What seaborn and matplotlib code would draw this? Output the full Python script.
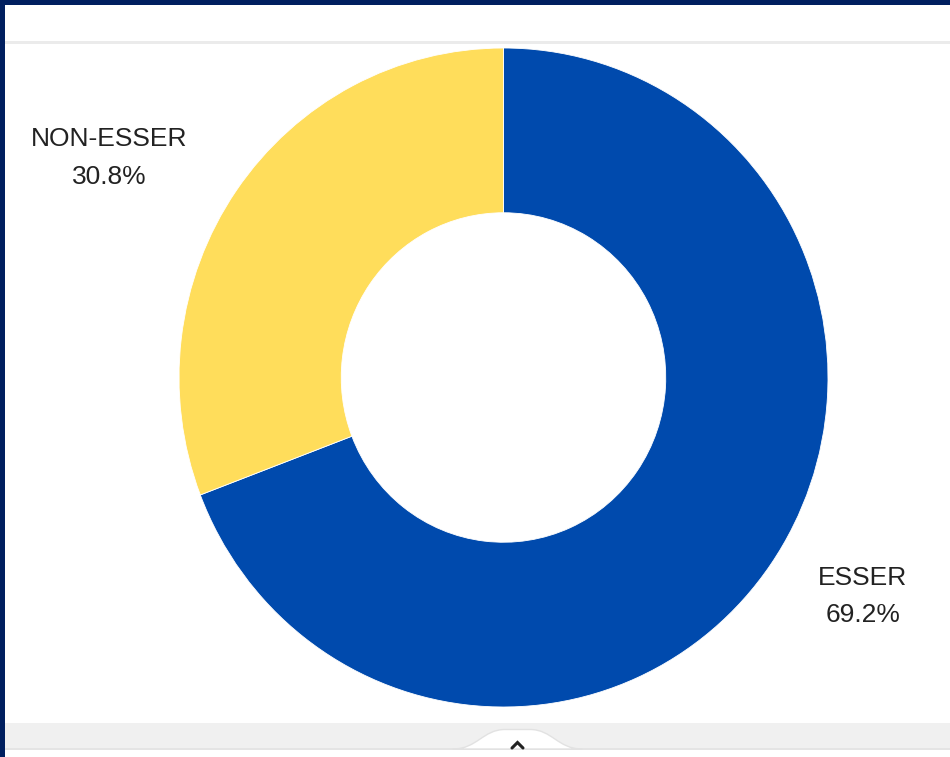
import matplotlib
matplotlib.use("Agg")
import matplotlib.pyplot as plt
import seaborn as sns
from matplotlib.patches import Rectangle, PathPatch
from matplotlib.path import Path

categories = ["ESSER", "NON-ESSER"]
values = [69.2, 30.8]
colors = ["#004aad", "#ffdd5b"]

sns.set_theme(style="white")
plt.rcParams["font.family"] = ["Liberation Sans", "DejaVu Sans"]

W, H = 950, 757
fig = plt.figure(figsize=(W / 100, H / 100), dpi=100)
fig.patch.set_facecolor("white")

def px(x, y):
    return x / W, 1 - y / H

def rect(x0, y0, x1, y1, color, z=0):
    fig.patches.append(Rectangle((x0 / W, 1 - y1 / H), (x1 - x0) / W, (y1 - y0) / H,
                                 transform=fig.transFigure, facecolor=color,
                                 edgecolor="none", zorder=z))

rect(0, 41, W, 43.5, "#ebebeb", 1)
rect(0, 722.5, W, 748, "#f0f0f0", 1)
rect(0, 748, W, 750, "#e4e4e4", 1)
rect(0, 0, W, 5, "#001f5f", 5)
rect(0, 0, 5, H, "#001f5f", 5)

# bottom tab
verts = [(453, 749), (477, 749), (483, 729.5), (505, 729.5), (530, 729.5),
         (552, 729.5), (558, 749), (582, 749), (453, 749)]
verts = [px(x, y) for x, y in verts]
codes = [Path.MOVETO, Path.CURVE4, Path.CURVE4, Path.CURVE4, Path.LINETO,
         Path.CURVE4, Path.CURVE4, Path.CURVE4, Path.CLOSEPOLY]
fig.patches.append(PathPatch(Path(verts, codes), transform=fig.transFigure,
                             facecolor="white", edgecolor="#e2e2e2", lw=1, zorder=2))
fig.lines.append(plt.Line2D([512 / W, 517.5 / W, 523 / W],
                            [1 - 748 / H, 1 - 742.5 / H, 1 - 748 / H],
                            transform=fig.transFigure, color="#222222", lw=2.2,
                            solid_capstyle="round", solid_joinstyle="miter", zorder=3))

# donut
cxp, cyp, rx, ry = 503.5, 377.5, 324.5, 329.5
ax = fig.add_axes([(cxp - rx) / W, 1 - (cyp + ry) / H, 2 * rx / W, 2 * ry / H])
ax.pie(values, colors=colors, startangle=90, counterclock=False, radius=1,
       wedgeprops=dict(width=0.5, edgecolor="white", linewidth=0.6))
ax.set_xlim(-1, 1)
ax.set_ylim(-1, 1)
ax.set_aspect("auto")
ax.axis("off")

# labels
label_pos = {"ESSER": (863, 578, 615), "NON-ESSER": (109, 139, 177)}
for cat, v in zip(categories, values):
    x, y1, y2 = label_pos[cat]
    fig.text(x / W, 1 - y1 / H, cat, ha="center", va="center", fontsize=19, color="#222222")
    fig.text(x / W, 1 - y2 / H, f"{v:.1f}%", ha="center", va="center", fontsize=19, color="#222222")

fig.savefig("out.png", dpi=100)
